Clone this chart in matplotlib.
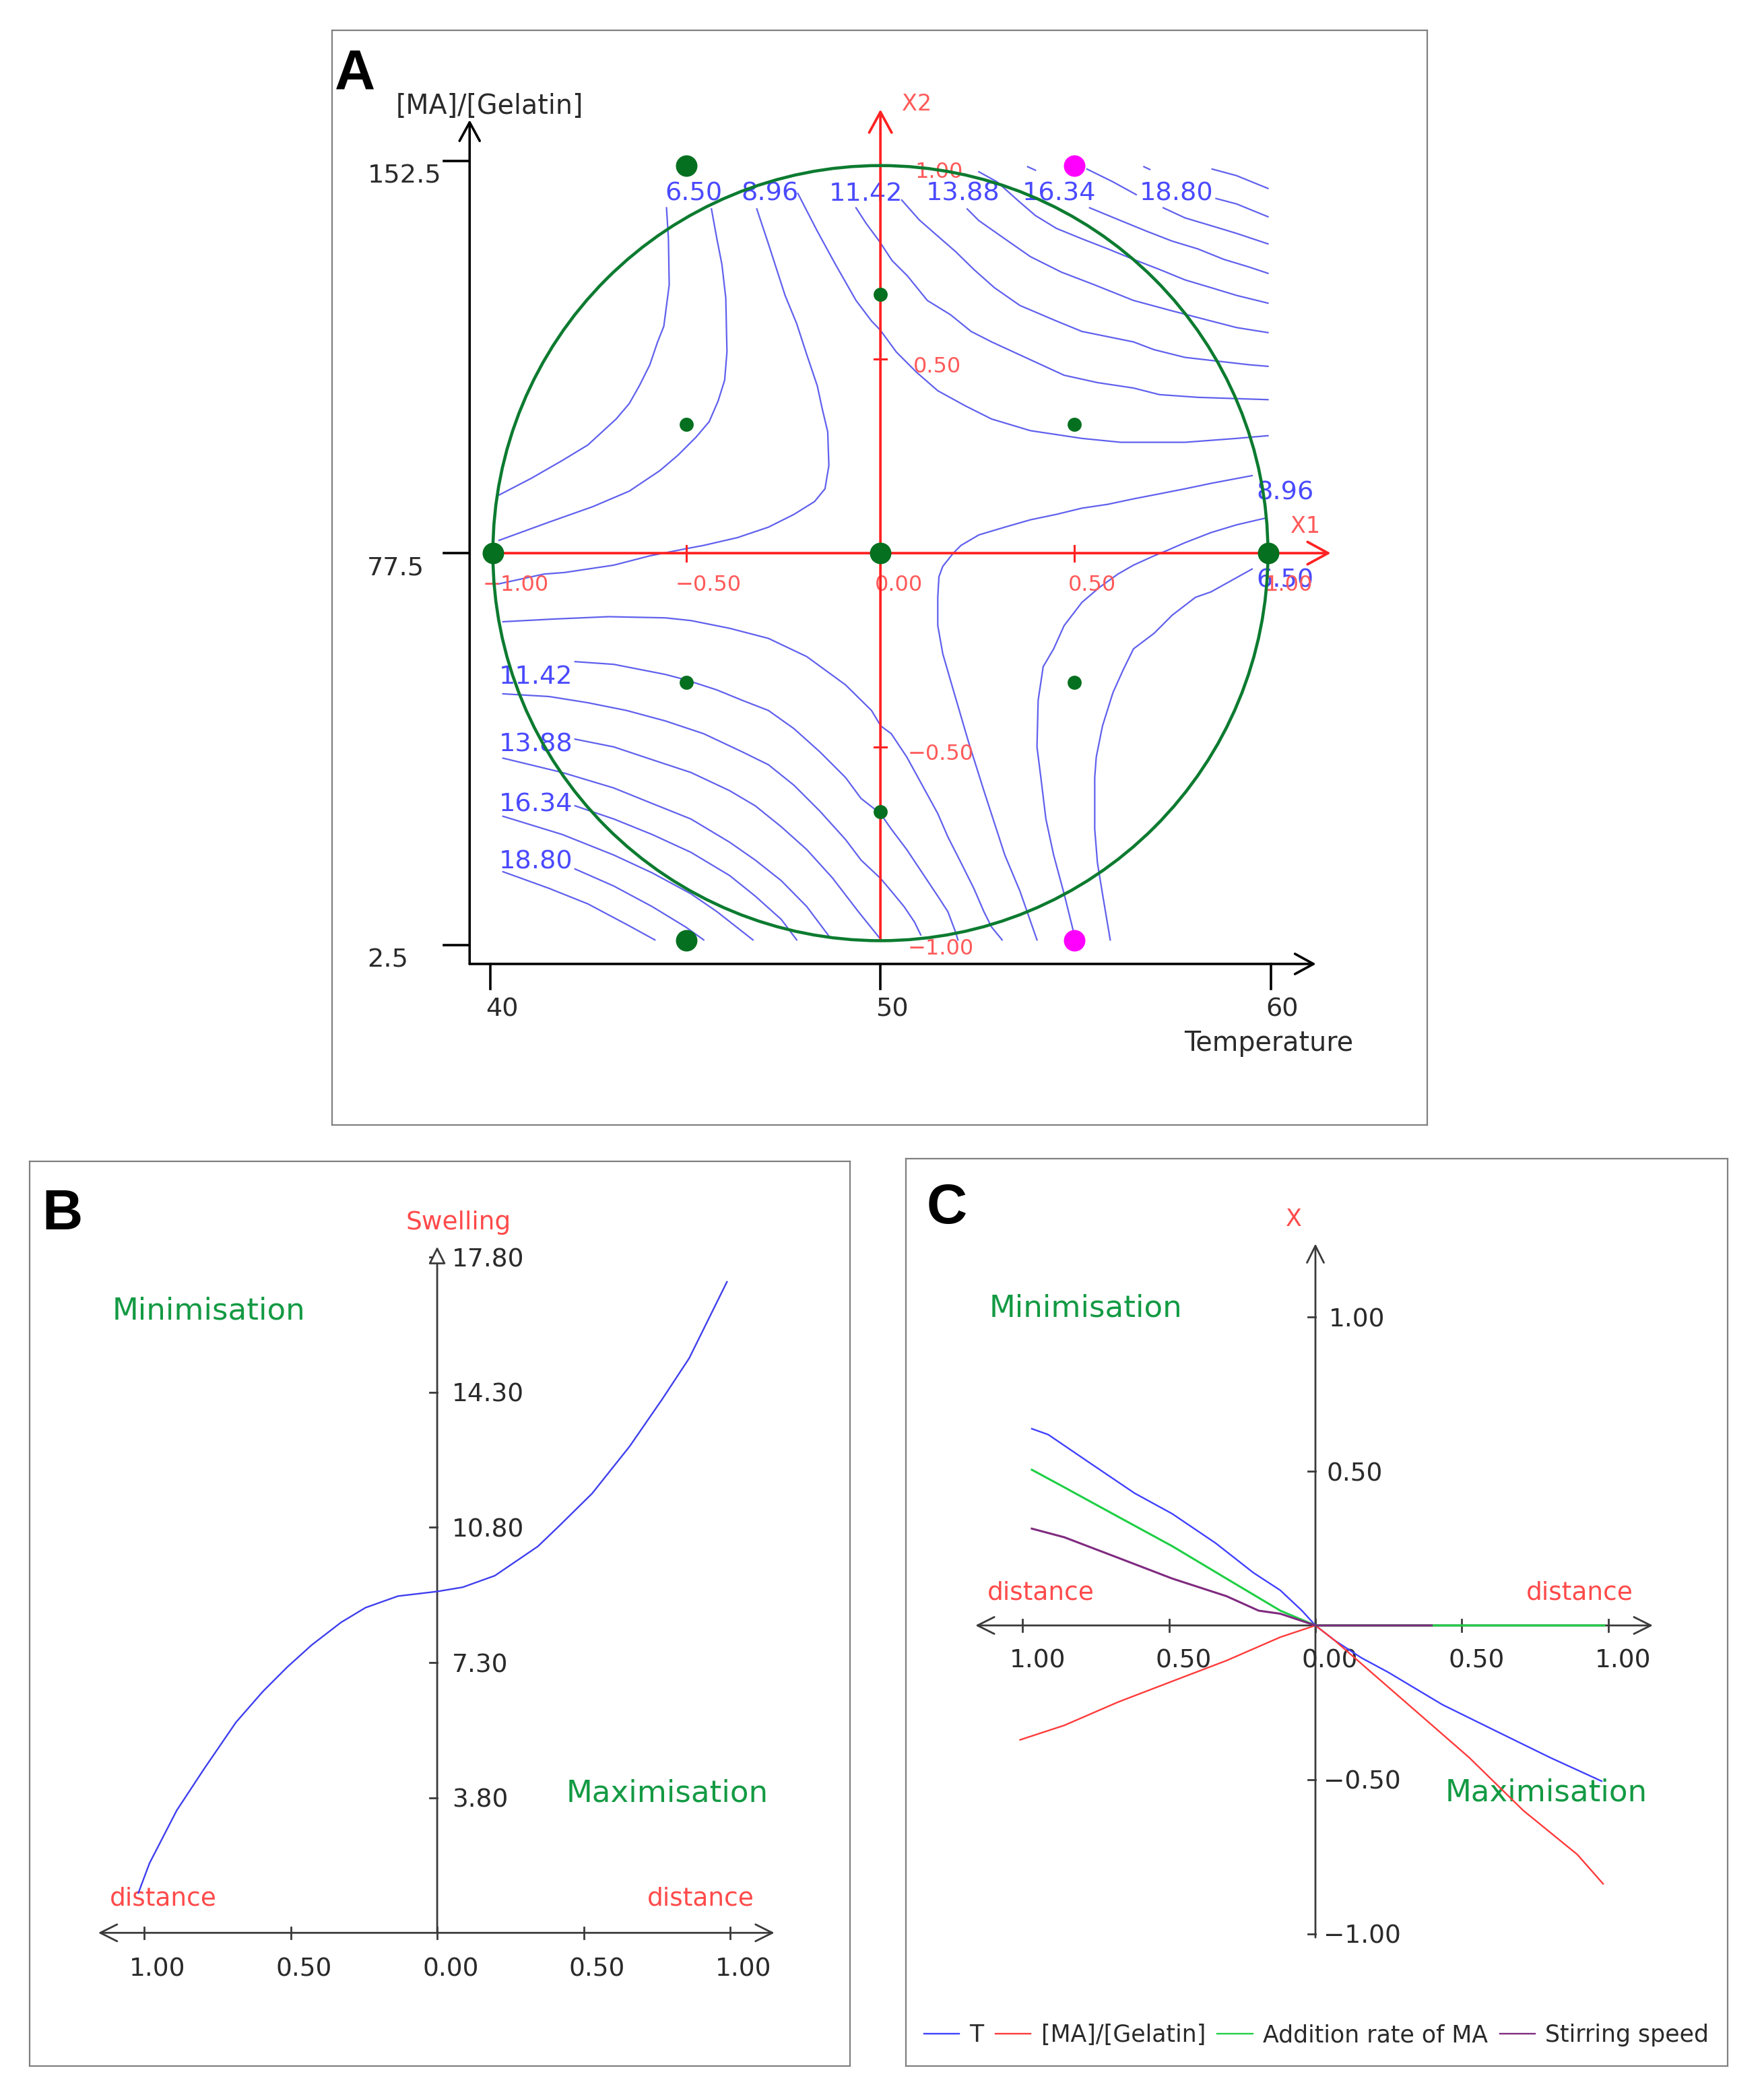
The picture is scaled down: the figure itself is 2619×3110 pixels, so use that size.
import matplotlib
matplotlib.use("Agg")
import matplotlib.pyplot as plt
from matplotlib.patches import Circle

plt.rcParams['font.family'] = ['DejaVu Sans']
nan = float("nan")

# ---------------- panel A: response surface (coded units X1, X2) ----------------
temp_ticks = [40, 50, 60]
ratio_ticks = [2.5, 77.5, 152.5]
coded_ticks = [-1.0, -0.5, 0.0, 0.5, 1.0]

big_green_x = [-0.5, -1.0, 0.0, 1.0, -0.5]
big_green_y = [1.0, 0.0, 0.0, 0.0, -1.0]
magenta_x = [0.5, 0.5]
magenta_y = [1.0, -1.0]
small_green_x = [0.0, -0.5, 0.5, -0.5, 0.5, 0.0]
small_green_y = [0.667, 0.333, 0.333, -0.333, -0.333, -0.667]

# iso-swelling lines (level in the name)
c650_tl_x = [-0.552, -0.547, -0.545, -0.559, -0.575, -0.595, -0.622, -0.648, -0.682, -0.755, -0.821, -0.901, -0.984]
c650_tl_y = [0.891, 0.811, 0.692, 0.585, 0.545, 0.486, 0.432, 0.386, 0.346, 0.279, 0.239, 0.193, 0.150]
c773_tl_x = [-0.436, -0.422, -0.409, -0.399, -0.396, -0.402, -0.419, -0.442, -0.476, -0.522, -0.569, -0.648, -0.742, -0.855, -0.984]
c773_tl_y = [0.888, 0.811, 0.745, 0.658, 0.519, 0.446, 0.392, 0.339, 0.299, 0.253, 0.213, 0.160, 0.120, 0.080, 0.033]
c896_tl_x = [-0.319, -0.289, -0.246, -0.216, -0.190, -0.163, -0.150, -0.136, -0.133, -0.143, -0.170, -0.223, -0.289, -0.369, -0.456, -0.509, -0.595, -0.688, -0.815, -0.868, -0.988]
c896_tl_y = [0.888, 0.798, 0.665, 0.592, 0.512, 0.432, 0.372, 0.313, 0.226, 0.166, 0.133, 0.100, 0.067, 0.040, 0.020, 0.010, -0.007, -0.031, -0.050, -0.054, -0.080]

c896_br_x = [0.959, 0.853, 0.786, 0.720, 0.653, 0.587, 0.520, 0.454, 0.387, 0.321, 0.254, 0.208, 0.188, 0.161, 0.151, 0.148, 0.148, 0.161, 0.188, 0.227, 0.267, 0.321, 0.360, 0.404]
c896_br_y = [0.200, 0.180, 0.166, 0.153, 0.140, 0.126, 0.116, 0.100, 0.086, 0.067, 0.047, 0.020, 0.000, -0.034, -0.061, -0.114, -0.187, -0.260, -0.353, -0.486, -0.613, -0.779, -0.872, -0.998]
c773_br_x = [0.992, 0.919, 0.853, 0.786, 0.740, 0.706, 0.653, 0.613, 0.567, 0.520, 0.474, 0.447, 0.420, 0.407, 0.404, 0.414, 0.427, 0.447, 0.474, 0.497, 0.502]
c773_br_y = [0.090, 0.073, 0.053, 0.027, 0.007, -0.007, -0.031, -0.054, -0.087, -0.127, -0.187, -0.247, -0.293, -0.380, -0.500, -0.579, -0.686, -0.779, -0.879, -0.972, -0.998]
c650_br_x = [0.959, 0.853, 0.813, 0.753, 0.706, 0.653, 0.627, 0.600, 0.573, 0.557, 0.553, 0.553, 0.560, 0.573, 0.593]
c650_br_y = [-0.041, -0.100, -0.114, -0.160, -0.207, -0.247, -0.300, -0.360, -0.446, -0.526, -0.579, -0.712, -0.799, -0.879, -0.998]

c1019_tr_x = [-0.213, -0.163, -0.116, -0.063, -0.023, 0.000, 0.041, 0.094, 0.148, 0.221, 0.287, 0.387, 0.520, 0.620, 0.786, 0.919, 1.000]
c1019_tr_y = [0.928, 0.831, 0.745, 0.652, 0.599, 0.575, 0.519, 0.466, 0.419, 0.379, 0.346, 0.316, 0.296, 0.286, 0.286, 0.296, 0.303]
c1142_tr_x = [-0.063, -0.037, -0.003, 0.030, 0.070, 0.121, 0.181, 0.234, 0.287, 0.387, 0.474, 0.560, 0.653, 0.720, 0.819, 1.000]
c1142_tr_y = [0.891, 0.851, 0.805, 0.755, 0.715, 0.652, 0.615, 0.572, 0.545, 0.499, 0.459, 0.440, 0.426, 0.409, 0.402, 0.396]
c1265_tr_x = [0.055, 0.100, 0.148, 0.194, 0.241, 0.294, 0.360, 0.454, 0.520, 0.653, 0.706, 0.786, 0.952, 1.000]
c1265_tr_y = [0.911, 0.860, 0.818, 0.778, 0.732, 0.685, 0.639, 0.599, 0.572, 0.545, 0.525, 0.505, 0.486, 0.482]
c1388_tr_x = [0.224, 0.254, 0.321, 0.387, 0.467, 0.553, 0.653, 0.753, 0.853, 0.919, 1.000]
c1388_tr_y = [0.888, 0.858, 0.811, 0.765, 0.725, 0.692, 0.652, 0.625, 0.599, 0.582, 0.569]
c1511_tr_x = [0.254, 0.301, 0.357, 0.400, 0.454, 0.520, 0.587, 0.653, 0.720, 0.786, 0.853, 0.919, 1.000]
c1511_tr_y = [0.984, 0.958, 0.908, 0.871, 0.838, 0.811, 0.785, 0.758, 0.732, 0.705, 0.685, 0.665, 0.645]
c1634_tr_x = [0.380, 0.400, nan, 0.540, 0.620, 0.686, 0.753, 0.819, 0.886, 0.952, 1.000]
c1634_tr_y = [0.997, 0.988, nan, 0.891, 0.858, 0.831, 0.805, 0.785, 0.758, 0.738, 0.722]
c1757_tr_x = [0.533, 0.600, 0.660, nan, 0.730, 0.786, 0.853, 0.919, 1.000]
c1757_tr_y = [0.991, 0.958, 0.925, nan, 0.891, 0.865, 0.845, 0.825, 0.798]
c1880_tr_x = [0.680, 0.695, nan, 0.866, 0.919, 1.000]
c1880_tr_y = [0.997, 0.990, nan, 0.915, 0.901, 0.868]
c2003_tr_x = [0.856, 0.919, 1.000]
c2003_tr_y = [0.991, 0.974, 0.941]

c1019_bl_x = [-0.974, -0.841, -0.702, -0.555, -0.489, -0.389, -0.289, -0.190, -0.090, -0.023, 0.001, 0.028, 0.068, 0.108, 0.148, 0.174, 0.208, 0.241, 0.267, 0.287, 0.314]
c1019_bl_y = [-0.177, -0.170, -0.164, -0.167, -0.174, -0.194, -0.220, -0.267, -0.340, -0.406, -0.446, -0.466, -0.526, -0.599, -0.672, -0.732, -0.799, -0.865, -0.925, -0.965, -0.998]
c1142_bl_x = [-0.788, -0.688, -0.555, -0.502, -0.422, -0.356, -0.289, -0.223, -0.156, -0.090, -0.050, 0.000, 0.028, 0.068, 0.108, 0.148, 0.174, 0.194, 0.200]
c1142_bl_y = [-0.280, -0.287, -0.313, -0.327, -0.353, -0.380, -0.406, -0.453, -0.513, -0.579, -0.633, -0.672, -0.712, -0.765, -0.825, -0.885, -0.925, -0.978, -0.998]
c1265_bl_x = [-0.974, -0.855, -0.755, -0.655, -0.555, -0.456, -0.356, -0.289, -0.223, -0.156, -0.090, -0.050, 0.000, 0.028, 0.061, 0.088, 0.104]
c1265_bl_y = [-0.363, -0.370, -0.386, -0.406, -0.433, -0.466, -0.513, -0.546, -0.599, -0.666, -0.739, -0.792, -0.839, -0.872, -0.912, -0.952, -0.985]
c1388_bl_x = [-0.788, -0.688, -0.589, -0.489, -0.389, -0.323, -0.256, -0.190, -0.123, -0.057, -0.003]
c1388_bl_y = [-0.480, -0.500, -0.533, -0.566, -0.613, -0.652, -0.706, -0.765, -0.839, -0.925, -0.992]
c1511_bl_x = [-0.974, -0.821, -0.688, -0.589, -0.489, -0.389, -0.323, -0.256, -0.190, -0.130]
c1511_bl_y = [-0.529, -0.566, -0.606, -0.646, -0.686, -0.746, -0.792, -0.845, -0.912, -0.992]
c1634_bl_x = [-0.788, -0.688, -0.589, -0.489, -0.389, -0.323, -0.256, -0.216]
c1634_bl_y = [-0.652, -0.686, -0.726, -0.772, -0.832, -0.885, -0.945, -0.998]
c1757_bl_x = [-0.974, -0.821, -0.688, -0.589, -0.489, -0.422, -0.329]
c1757_bl_y = [-0.679, -0.726, -0.779, -0.825, -0.879, -0.925, -0.998]
c1880_bl_x = [-0.788, -0.688, -0.589, -0.502, -0.456]
c1880_bl_y = [-0.815, -0.859, -0.912, -0.965, -0.998]
c2003_bl_x = [-0.974, -0.855, -0.755, -0.655, -0.582]
c2003_bl_y = [-0.822, -0.865, -0.905, -0.958, -0.998]

# contour labels
top_labels = ["6.50", "8.96", "11.42", "13.88", "16.34", "18.80"]
left_labels = ["11.42", "13.88", "16.34", "18.80"]
right_labels = ["8.96", "6.50"]

# ---------------- panel B: swelling along the optimum path ----------------
b_dist = [-1.02, -0.982, -0.889, -0.797, -0.687, -0.595, -0.512, -0.429, -0.328, -0.245, -0.134,
          0.0, 0.087, 0.197, 0.344, 0.418, 0.529, 0.657, 0.768, 0.860, 0.989]
b_swell = [1.33, 2.10, 3.47, 4.53, 5.75, 6.55, 7.18, 7.75, 8.34, 8.72, 9.02,
           9.14, 9.25, 9.55, 10.31, 10.85, 11.68, 12.90, 14.12, 15.18, 17.16]
b_yticks = [3.80, 7.30, 10.80, 14.30, 17.80]
dist_ticks = [-1.0, -0.5, 0.0, 0.5, 1.0]

# ---------------- panel C: factor coordinates along the path ----------------
c_u_T = [-0.969, -0.913, -0.766, -0.618, -0.489, -0.341, -0.212, -0.120, -0.046, 0.0,
         0.065, 0.157, 0.249, 0.434, 0.618, 0.803, 0.978]
c_T = [0.638, 0.619, 0.524, 0.429, 0.362, 0.267, 0.171, 0.114, 0.048, 0.0,
       -0.048, -0.105, -0.152, -0.257, -0.343, -0.429, -0.505]
c_u_MA = [-1.009, -0.858, -0.673, -0.489, -0.304, -0.120, 0.0, 0.065, 0.157, 0.341, 0.526, 0.710, 0.895, 0.983]
c_MA = [-0.371, -0.324, -0.248, -0.181, -0.114, -0.038, 0.0, -0.048, -0.124, -0.276, -0.429, -0.600, -0.743, -0.838]
c_u_add = [-0.969, -0.858, -0.673, -0.489, -0.304, -0.120, 0.0, 0.987]
c_add = [0.505, 0.448, 0.352, 0.257, 0.152, 0.048, 0.0, 0.0]
c_u_stir = [-0.969, -0.858, -0.673, -0.489, -0.304, -0.194, -0.120, 0.0, 0.397]
c_stir = [0.314, 0.286, 0.219, 0.152, 0.095, 0.048, 0.038, 0.0, 0.0]
c_yticks = [-1.0, -0.5, 0.5, 1.0]
c_names = ["T", "[MA]/[Gelatin]", "Addition rate of MA", "Stirring speed"]

W, H = 2619, 3110
fig = plt.figure(figsize=(W / 100, H / 100), dpi=100)

BLACK = "#2a2a2a"
RED = "#ff2222"
RED_T = "#ff5a5a"
BLUE_L = "#6060ee"
BLUE_T = "#4a4aff"
GREEN_C = "#0c7b30"
DOT = "#05701f"
GREEN_T = "#139a43"


def fmt(v):
    return f"{v:.2f}".replace("-", "\u2212")


def box_axes(x0, y0, x1, y1):
    ax = fig.add_axes([x0 / W, 1 - y1 / H, (x1 - x0) / W, (y1 - y0) / H])
    ax.set_xticks([])
    ax.set_yticks([])
    for s in ax.spines.values():
        s.set_color("#808080")
        s.set_linewidth(1.6)
    return ax


def arrow(ax, x0, y0, x1, y1, color, lw, style="->", hl=0.5, hw=0.25, ms=40, hollow=False, z=3):
    props = dict(arrowstyle=f"{style},head_length={hl},head_width={hw}", lw=lw,
                 mutation_scale=ms, shrinkA=0, shrinkB=0)
    if hollow:
        props["fc"] = "white"
        props["ec"] = color
    else:
        props["color"] = color
    ax.annotate("", xy=(x1, y1), xytext=(x0, y0), arrowprops=props, zorder=z)


def txt(ax, x, y, s, size, color, ha="left", va="center_baseline", **kw):
    return ax.text(x, y, s, fontsize=size, color=color, ha=ha, va=va, **kw)


# ======================= A =======================
axA = box_axes(493, 45, 2119, 1670)
axA.set_xlim(-1.415, 1.411)
axA.set_ylim(-1.4755, 1.349)

contours = [
    (c650_tl_x, c650_tl_y), (c773_tl_x, c773_tl_y), (c896_tl_x, c896_tl_y),
    (c896_br_x, c896_br_y), (c773_br_x, c773_br_y), (c650_br_x, c650_br_y),
    (c1019_tr_x, c1019_tr_y), (c1142_tr_x, c1142_tr_y), (c1265_tr_x, c1265_tr_y),
    (c1388_tr_x, c1388_tr_y), (c1511_tr_x, c1511_tr_y), (c1634_tr_x, c1634_tr_y),
    (c1757_tr_x, c1757_tr_y), (c1880_tr_x, c1880_tr_y), (c2003_tr_x, c2003_tr_y),
    (c1019_bl_x, c1019_bl_y), (c1142_bl_x, c1142_bl_y), (c1265_bl_x, c1265_bl_y),
    (c1388_bl_x, c1388_bl_y), (c1511_bl_x, c1511_bl_y), (c1634_bl_x, c1634_bl_y),
    (c1757_bl_x, c1757_bl_y), (c1880_bl_x, c1880_bl_y), (c2003_bl_x, c2003_bl_y),
]
for xs, ys in contours:
    axA.plot(xs, ys, color=BLUE_L, lw=1.6, zorder=2, solid_joinstyle="round")

for s, x in zip(top_labels, [-0.556, -0.36, -0.132, 0.117, 0.367, 0.669]):
    txt(axA, x, 0.934, s, 27.5, BLUE_T, zorder=3)
for s, y in zip(left_labels, [-0.312, -0.487, -0.642, -0.79]):
    txt(axA, -0.985, y, s, 27.5, BLUE_T, zorder=3)
for s, y in zip(right_labels, [0.162, -0.064]):
    txt(axA, 0.97, y, s, 27.5, BLUE_T, zorder=3)

# coded red axes
arrow(axA, -1.0, 0.0, 1.162, 0.0, RED, 2.7, ms=40, hl=0.55, hw=0.3, z=3.5)
arrow(axA, 0.0, -1.0, 0.0, 1.145, RED, 2.7, ms=40, hl=0.55, hw=0.3, z=3.5)
for t in coded_ticks:
    if t != 0.0:
        axA.plot([t, t], [-0.02, 0.02], color=RED, lw=2.2, zorder=3.5)
        axA.plot([-0.016, 0.016], [t, t], color=RED, lw=2.2, zorder=3.5)
x1_lab_x = [-1.026, -0.529, -0.015, 0.484, 0.992]
for t, x in zip(coded_ticks, x1_lab_x):
    txt(axA, x, -0.077, fmt(t), 23, RED_T, zorder=3)
for t, x, y in zip([1.0, 0.5, -0.5, -1.0], [0.089, 0.085, 0.07, 0.07], [0.989, 0.487, -0.513, -1.015]):
    txt(axA, x, y, fmt(t), 23, RED_T, zorder=3)
txt(axA, 1.058, 0.075, "X1", 24, RED_T)
txt(axA, 0.056, 1.164, "X2", 24, RED_T)

# design region and experimental points
axA.add_patch(Circle((0, 0), 1.0, fill=False, ec=GREEN_C, lw=3.3, zorder=4))
axA.plot(small_green_x, small_green_y, "o", ms=15, color=DOT, mec="none", zorder=6)
axA.plot(big_green_x, big_green_y, "o", ms=23, color=DOT, mec="none", zorder=6)
axA.plot(magenta_x, magenta_y, "o", ms=23, color="#ff00ff", mec="none", zorder=6)

# natural-unit black axes
ax0 = -1.06
arrow(axA, ax0, ax0, ax0, 1.118, "black", 2.6, ms=36, hl=0.55, hw=0.3)
arrow(axA, ax0, ax0, 1.124, ax0, "black", 2.6, ms=36, hl=0.55, hw=0.3)
for t in ratio_ticks:
    yc = (t - 77.5) / 75 * 1.012
    axA.plot([ax0 - 0.066, ax0], [yc, yc], color="black", lw=2.6)
    txt(axA, -1.324, yc - 0.032, f"{t:.1f}", 27.5, BLACK)
for t in temp_ticks:
    xc = (t - 50) / 10 * 1.007
    axA.plot([xc, xc], [ax0, ax0 - 0.065], color="black", lw=2.6)
    txt(axA, xc - 0.012, -1.171, f"{t}", 27.5, BLACK)
txt(axA, -1.251, 1.161, "[MA]/[Gelatin]", 28.5, BLACK)
txt(axA, 0.784, -1.257, "Temperature", 28.5, BLACK)
axA.text(-1.409, 1.197, "A", fontsize=60, fontweight="bold", family="Liberation Sans",
         ha="left", va="baseline", color="black")

# ======================= B =======================
axB = box_axes(44, 1724, 1262, 3067)
axB.set_xlim(-1.391, 1.409)
axB.set_ylim(-3.15, 20.28)
base = 0.30
arrow(axB, -1.157, base, 1.151, base, "#3a3a3a", 2.0, style="<->", ms=30, hl=0.6, hw=0.3)
arrow(axB, 0.0, base, 0.0, 18.07, "#3a3a3a", 2.0, style="-|>", ms=26, hl=0.6, hw=0.3, hollow=True)
for t in b_yticks:
    axB.plot([-0.026, 0.0], [t, t], color="#3a3a3a", lw=2.0)
    txt(axB, 0.05, t, f"{t:.2f}", 27, BLACK)
for t in dist_ticks:
    axB.plot([t, t], [base - 0.15, base + 0.15], color="#3a3a3a", lw=2.0)
    txt(axB, t + 0.046, -0.57, f"{abs(t):.2f}", 27, BLACK, ha="center")
axB.plot(b_dist, b_swell, color="#3f3fee", lw=1.7, zorder=4, solid_joinstyle="round")
txt(axB, 0.072, 18.76, "Swelling", 27, "#ff4a4a", ha="center")
txt(axB, -0.779, 16.48, "Minimisation", 32.5, GREEN_T, ha="center")
txt(axB, 0.786, 4.0, "Maximisation", 32.5, GREEN_T, ha="center")
txt(axB, -0.934, 1.26, "distance", 27, "#ff4a4a", ha="center")
txt(axB, 0.899, 1.26, "distance", 27, "#ff4a4a", ha="center")
axB.text(-1.349, 18.52, "B", fontsize=60, fontweight="bold", family="Liberation Sans",
         ha="left", va="baseline", color="black")

# ======================= C =======================
axC = box_axes(1345, 1720, 2565, 3067)
axC.set_xlim(-1.3993, 1.4085)
axC.set_ylim(-1.429, 1.514)
arrow(axC, -1.162, 0.0, 1.153, 0.0, "#3a3a3a", 2.0, style="<->", ms=30, hl=0.6, hw=0.3)
arrow(axC, 0.0, -1.012, 0.0, 1.238, "#3a3a3a", 2.0, style="->", ms=30, hl=0.6, hw=0.3)
for t, x in zip(c_yticks, [0.028, 0.028, 0.037, 0.046]):
    axC.plot([-0.026, 0.0], [t, t], color="#3a3a3a", lw=2.0)
    txt(axC, x, t, fmt(t), 27, BLACK)
for t in dist_ticks:
    axC.plot([t, t], [-0.019, 0.019], color="#3a3a3a", lw=2.0)
    txt(axC, t + 0.05, -0.105, f"{abs(t):.2f}", 27, BLACK, ha="center")
lT, = axC.plot(c_u_T, c_T, color="#4040ff", lw=1.7, zorder=4, label=c_names[0])
lM, = axC.plot(c_u_MA, c_MA, color="#ff3a3a", lw=1.7, zorder=4, label=c_names[1])
lA, = axC.plot(c_u_add, c_add, color="#1fcf45", lw=2.2, zorder=4, label=c_names[2])
lS, = axC.plot(c_u_stir, c_stir, color="#7f2a7f", lw=2.2, zorder=5, label=c_names[3])
txt(axC, -0.074, 1.324, "X", 25, "#ff4a4a", ha="center")
txt(axC, -0.784, 1.038, "Minimisation", 32.5, GREEN_T, ha="center")
txt(axC, 0.788, -0.533, "Maximisation", 32.5, GREEN_T, ha="center")
txt(axC, -0.939, 0.114, "distance", 27, "#ff4a4a", ha="center")
txt(axC, 0.904, 0.114, "distance", 27, "#ff4a4a", ha="center")
axC.text(-1.328, 1.304, "C", fontsize=60, fontweight="bold", family="Liberation Sans",
         ha="left", va="baseline", color="black")
leg = axC.legend(handles=[lT, lM, lA, lS], loc="center left", bbox_to_anchor=(0.022, 0.034),
                 ncol=4, frameon=False, fontsize=25, handlelength=1.5, handletextpad=0.45,
                 columnspacing=0.5, borderaxespad=0, borderpad=0)
for t in leg.get_texts():
    t.set_color(BLACK)
for h in leg.legend_handles:
    h.set_linewidth(1.7)

fig.savefig("out.png", dpi=100, facecolor="white")
